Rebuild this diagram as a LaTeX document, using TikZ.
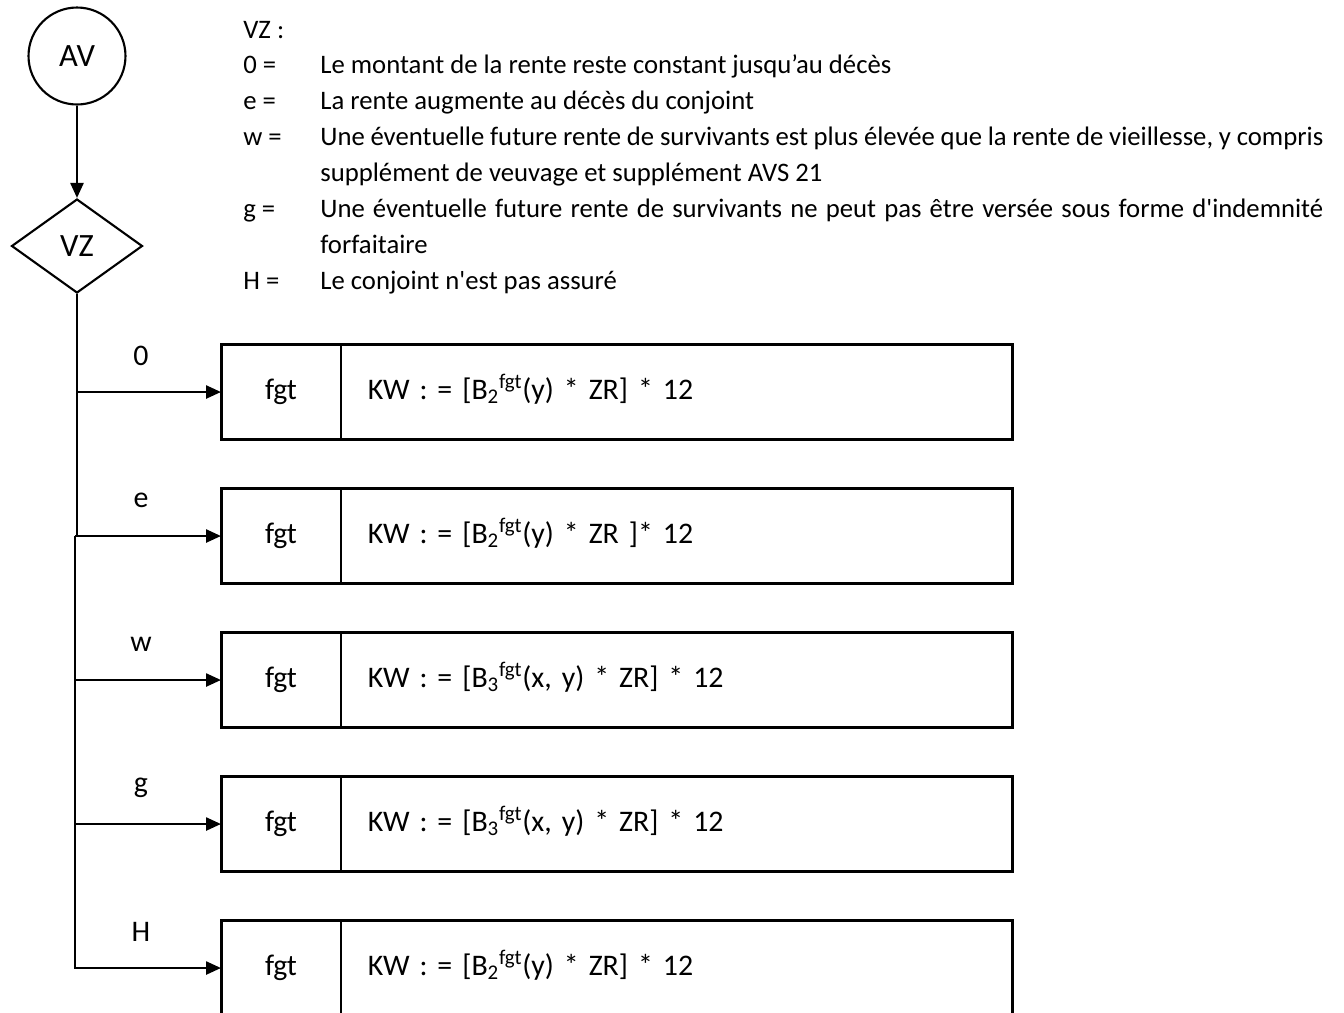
\documentclass[tikz,border=0pt]{standalone}
\usepackage{fontspec}
\setmainfont{Carlito}
\usetikzlibrary{arrows.meta,shapes.geometric,positioning}
\tikzset{
 fleche/.style={line width=1.4pt,-{Triangle[length=0.3cm,width=0.26cm]}},
 trait/.style={line width=1.4pt},
 debut/.style={draw,circle,line width=1.2pt,minimum size=1.94cm,inner sep=0pt,font=\fontsize{18.5}{22}\selectfont},
 choix/.style={draw,diamond,line width=1.2pt,minimum width=2.62cm,minimum height=1.88cm,inner sep=0pt,font=\fontsize{18.5}{22}\selectfont},
 cellfgt/.style={draw,line width=1.2pt,outer sep=0pt,minimum width=2.4cm,minimum height=1.9cm,inner sep=0pt,text height=12pt,text depth=4pt},
 cellkw/.style={draw,line width=1.2pt,outer sep=0pt,minimum height=1.9cm,text width=12.36cm,inner xsep=0.54cm,inner ysep=0pt,align=left,text height=12pt,text depth=4pt},
 cadre/.style={line width=1.7pt},
 legende/.style={anchor=base west,inner sep=0pt,font=\fontsize{15.2}{18}\selectfont},
}

\begin{document}
\begin{tikzpicture}[x=0.02cm,y=-0.02cm,font=\fontsize{17}{20}\selectfont]
\useasboundingbox (0,0) rectangle (1344,1012);

% depart et choix
\node[debut] (av) at (77,56) {AV};
\node[choix] (vz) at (77,246) {VZ};
\draw[fleche] (av) -- (vz);

% legende
\node[legende] (lvz) at (243,38) {VZ :};
\foreach \k/\y/\txt in {0/73.9/{Le montant de la rente reste constant jusqu’au décès},e/109.8/{La rente augmente au décès du conjoint},H/289.3/{Le conjoint n\textquotesingle est pas assuré}} {
 \node[legende] (k\k) at (243,\y) {\k\ =};
 \node[legende] (t\k) at (320,\y) {\txt};
}
\node[legende] (kw) at (243,145.7) {w =};
\node[legende] (tw) at (320,145.7) {\makebox[20.06cm][s]{Une éventuelle future rente de survivants est plus élevée que la rente de vieillesse, y compris}};
\node[legende] (tw2) at (320,181.6) {supplément de veuvage et supplément AVS 21};
\node[legende] (kg) at (243,217.5) {g =};
\node[legende] (tg) at (320,217.5) {\makebox[20.06cm][s]{Une éventuelle future rente de survivants ne peut pas être versée sous forme d\textquotesingle indemnité}};
\node[legende] (tg2) at (320,253.4) {forfaitaire};

% cases de calcul
\foreach \i/\lab/\form in {1/0/{KW : = [B\textsubscript{2}\textsuperscript{fgt}(y) * ZR] * 12},2/e/{KW : = [B\textsubscript{2}\textsuperscript{fgt}(y) * ZR ]* 12},3/w/{KW : = [B\textsubscript{3}\textsuperscript{fgt}(x, y) * ZR] * 12},4/g/{KW : = [B\textsubscript{3}\textsuperscript{fgt}(x, y) * ZR] * 12},5/H/{KW : = [B\textsubscript{2}\textsuperscript{fgt}(y) * ZR] * 12}} {
 \pgfmathsetmacro\yb{392+144*(\i-1)}
 \node[cellfgt] (f\i) at (281,\yb) {fgt};
 \node[cellkw,anchor=west] (kw\i) at (f\i.east) {\form};
 \draw[cadre] (f\i.north west) rectangle (kw\i.south east);
 \node (l\i) at (141,\yb-36) {\lab};
}

% branches
\coordinate (coude) at (75,536);
\draw[trait] (vz.south) -- (vz.south |- f2.west);
\draw[fleche] (vz.south |- f1.west) -- (f1.west);
\draw[fleche] (coude) -- (f2.west);
\foreach \i in {3,4} \draw[fleche] (coude |- f\i.west) -- (f\i.west);
\draw[fleche] (coude) |- (f5.west);

\end{tikzpicture}
\end{document}
